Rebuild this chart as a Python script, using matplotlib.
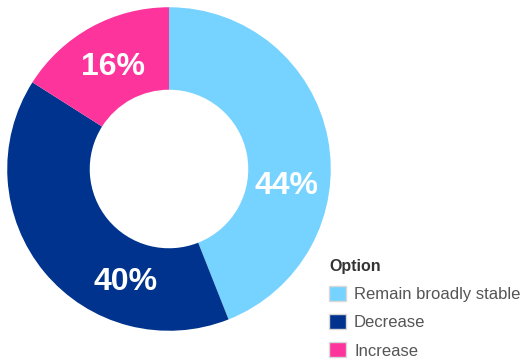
import numpy as np
import matplotlib.pyplot as plt
from matplotlib.patches import Patch

plt.rcParams['font.family'] = ['Liberation Sans', 'DejaVu Sans']

# share of respondents per option
options = ['Remain broadly stable', 'Decrease', 'Increase']
shares = [44, 40, 16]
colors = ['#76D2FF', '#00338D', '#FD349C']

# where each percentage sits in the ring (angle in degrees, radius)
label_angles = [-8, -111, 119]
label_radii = [0.735, 0.75, 0.72]

fig = plt.figure(figsize=(5.24, 3.63), dpi=100)
ax = fig.add_axes([4 / 524, 29 / 363, 330 / 524, 330 / 363])

wedges, _ = ax.pie(shares, colors=colors, startangle=90, counterclock=False,
                   radius=1, wedgeprops=dict(width=0.51, linewidth=0))

for v, a, r in zip(shares, label_angles, label_radii):
    t = np.deg2rad(a)
    ax.text(r * np.cos(t), r * np.sin(t), f'{v}%', ha='center', va='center',
            color='white', fontsize=23, fontweight='bold')

ax.set_xlim(-1.02, 1.02)
ax.set_ylim(-1.02, 1.02)
ax.set_aspect('equal')
ax.axis('off')

handles = [Patch(facecolor=c, edgecolor='#d8d8d8', linewidth=1) for c in colors]
leg = fig.legend(handles, options, loc='upper left',
                 bbox_to_anchor=(314 / 524, 1 - 244 / 363),
                 frameon=False, fontsize=12, title='Option',
                 title_fontproperties=dict(weight='bold', size=11.5),
                 alignment='left', labelspacing=0.72,
                 handlelength=1.0, handleheight=1.0, handletextpad=0.5)
leg.get_title().set_color('#333333')
for t in leg.get_texts():
    t.set_color('#555555')

fig.savefig('out.png', dpi=100)
